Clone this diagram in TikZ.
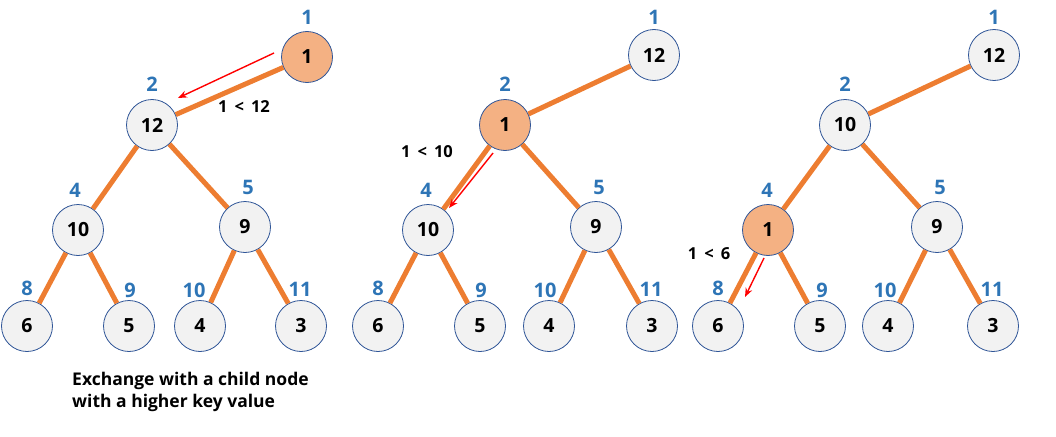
\documentclass[tikz,border=0pt]{standalone}
\usepackage{fontspec}
\setmainfont{Open Sans}
\usetikzlibrary{arrows.meta}
\definecolor{nodeblue}{RGB}{47,85,151}
\definecolor{nodegray}{RGB}{242,242,242}
\definecolor{hlorange}{RGB}{244,177,131}
\definecolor{idxblue}{RGB}{46,117,182}
\definecolor{edgeorange}{RGB}{237,125,49}
\tikzset{
  hn/.style={circle, draw=nodeblue, line width=0.8pt, fill=nodegray, minimum size=51pt, inner sep=0pt, font=\fontsize{19.5}{19.5}\selectfont\bfseries},
  hl/.style={hn, fill=hlorange},
  idx/.style={text=idxblue, inner sep=0pt, font=\fontsize{20}{20}\selectfont\bfseries},
  edg/.style={draw=edgeorange, line width=5pt},
  swap/.style={draw=red, line width=1.4pt, -{Stealth[length=9pt,width=7pt]}},
  cmp/.style={inner sep=0pt, font=\fontsize{16.5}{16.5}\selectfont\bfseries},
  note/.style={inner sep=0pt, align=left, anchor=north west, font=\fontsize{17.5}{22}\selectfont\bfseries}
}
\begin{document}
\begin{tikzpicture}[x=1pt,y=-1pt]
\useasboundingbox (0,0) rectangle (1056,436);
% ---------- tree 1 ----------
\node[hl] (a1) at (307,57) {1};
\node[hn] (a2) at (152,125) {12};
\node[hn] (a4) at (78,230) {10};
\node[hn] (a5) at (245,227) {9};
\node[hn] (a8) at (27,326) {6};
\node[hn] (a9) at (129,326) {5};
\node[hn] (a10) at (200,326) {4};
\node[hn] (a11) at (301,326) {3};
\foreach \p/\c in {a1/a2,a2/a4,a2/a5,a4/a8,a4/a9,a5/a10,a5/a11} \draw[edg] (\p) -- (\c);
\node[idx] (la1) at (307,17) {1};
\node[idx] (la2) at (152,84) {2};
\node[idx] (la4) at (75,190) {4};
\node[idx] (la5) at (248,187) {5};
\node[idx] (la8) at (27,288) {8};
\node[idx] (la9) at (130,290) {9};
\node[idx] (la10) at (194,290) {10};
\node[idx] (la11) at (300,289) {11};
\coordinate (sa1) at (274,53);
\coordinate (ta1) at (178,98);
\draw[swap] (sa1) -- (ta1);
\node[cmp] (ca) at (244,107) {1 \,<\, 12};
% ---------- tree 2 ----------
\node[hn] (b1) at (654,55) {12};
\node[hl] (b2) at (505,125) {1};
\node[hn] (b4) at (428,230) {10};
\node[hn] (b5) at (596,227) {9};
\node[hn] (b8) at (378,326) {6};
\node[hn] (b9) at (480,326) {5};
\node[hn] (b10) at (549,326) {4};
\node[hn] (b11) at (652,326) {3};
\foreach \p/\c in {b1/b2,b2/b4,b2/b5,b4/b8,b4/b9,b5/b10,b5/b11} \draw[edg] (\p) -- (\c);
\node[idx] (lb1) at (654,17) {1};
\node[idx] (lb2) at (505,84) {2};
\node[idx] (lb4) at (426,190) {4};
\node[idx] (lb5) at (599,187) {5};
\node[idx] (lb8) at (378,288) {8};
\node[idx] (lb9) at (481,290) {9};
\node[idx] (lb10) at (545,290) {10};
\node[idx] (lb11) at (651,289) {11};
\coordinate (sb1) at (493,153);
\coordinate (tb1) at (449,208);
\draw[swap] (sb1) -- (tb1);
\node[cmp] (cb) at (427,152) {1 \,<\, 10};
% ---------- tree 3 ----------
\node[hn] (c1) at (994,55) {12};
\node[hn] (c2) at (845,125) {10};
\node[hl] (c4) at (768,230) {1};
\node[hn] (c5) at (937,227) {9};
\node[hn] (c8) at (718,326) {6};
\node[hn] (c9) at (820,326) {5};
\node[hn] (c10) at (888,326) {4};
\node[hn] (c11) at (993,326) {3};
\foreach \p/\c in {c1/c2,c2/c4,c2/c5,c4/c8,c4/c9,c5/c10,c5/c11} \draw[edg] (\p) -- (\c);
\node[idx] (lc1) at (994,17) {1};
\node[idx] (lc2) at (845,84) {2};
\node[idx] (lc4) at (767,190) {4};
\node[idx] (lc5) at (940,187) {5};
\node[idx] (lc8) at (718,288) {8};
\node[idx] (lc9) at (822,290) {9};
\node[idx] (lc10) at (885,290) {10};
\node[idx] (lc11) at (992,289) {11};
\coordinate (sc1) at (764,258);
\coordinate (tc1) at (745,297);
\draw[swap] (sc1) -- (tc1);
\node[cmp] (cc) at (709,254) {1 \,<\, 6};
% ---------- note ----------
\node[note] (nt) at (72,372) {Exchange with a child node\\with a higher key value};
\end{tikzpicture}
\end{document}
